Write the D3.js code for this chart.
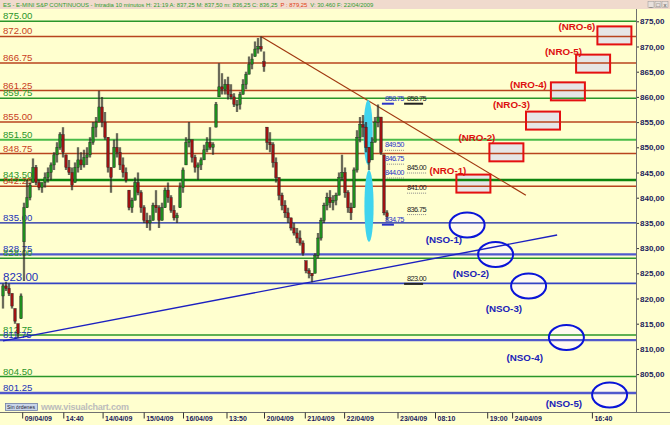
<!DOCTYPE html>
<html>
<head>
<meta charset="utf-8">
<script src="https://cdn.jsdelivr.net/npm/d3@7"></script>
<style>
body{margin:0;background:#fff}
svg{display:block;font-family:Arial,"Liberation Sans",sans-serif}
</style>
</head>
<body>
<svg id="chart" width="670" height="425"></svg>
<script>

// 10 min bars, grouped in slots (high / low / close)
var hi = [823,823.3,823,821,818,815,821,839,843.5,843,847.8,846.5,843.5,843,845,846,847,849,851,853,
  854,848.5,847.5,846,847,850,849,849.5,850,852,855,856,861.2,860,857,852,846,851.5,852.8,850,
  848,846,841.5,840,844,845,841.5,838.5,837,836.5,839,841.5,838.5,839,842,843,840.5,838.5,837,843,
  846,852,855,851.5,848.5,847,848,850.5,852,854,851,859,866.7,864.7,863.5,864,862.5,860.7,859.4,861,
  863.5,865,868,868.6,871,871.7,872,869,854,853,851,848,844,841,839.5,838,836,835,834,833.5,
  831.5,827.5,826,825,829,833,836,839,841,841.5,840.5,841,845,848.5,846,841.5,839,846,853.4,856,
  856.4,855,850,852,856,858.5,856,848.5,837.5];
var lo = [818,821.5,820.5,818,815,812.2,816,823.5,838,839.5,843,842.5,841.5,841,842,843,843.5,845.5,847,849.5,
  848,845.5,844.5,841.5,843,845,845.5,846,846.5,848,850.5,852,855,854,851.5,845,841,846,848,845.5,
  844,843,837.5,837,839.5,840.5,837,835,834,833.5,835.5,837,834,835.5,838,839,837,835.5,835,838,
  841,846.5,850,847,845,843.5,845.5,847.5,849,849.5,848.5,854,860,860.5,860.5,859.5,859.5,858,857,857.5,
  860.5,861.5,864.5,865.5,868,868.6,869,865,849.5,849,846,843,839.5,837.5,836,835,833.5,832.5,831,830.5,
  828.5,825,824,823.2,825,828,831.5,835,837.5,838,837.5,838.5,840.5,843.5,840,837,835.6,838,845,851,
  852,849,845.5,847.5,851,854,848.5,836.5,835.5];
var cl = [822.5,822,821,818.5,815.5,813,820.5,838,840,842.5,846,843,842,843,844,845,846.5,848.5,850,852.5,
  849,846,845,842.5,846,847.5,846.5,848,848.5,851,854,855,858,855,852,846,844,850,849,846.5,
  845,843.5,838,839.5,843,841,838,835.5,835,835.5,838.5,838,835.5,838,841.5,840,837.5,836,836.5,842,
  845.5,851,851.5,848,846,846.5,847.5,849.5,851,850,850.5,858.5,862,861.5,862.5,860.5,860,858.5,858.5,860.5,
  862.5,864.5,866.5,867.5,869.5,870,869.5,866,851,850.5,847,844,840.5,838.5,837,836,834,833,832,831,
  829,825.5,825,824.5,828.5,832,835.5,838.5,840,839,839.5,840.5,844,845,841,838,837,845.5,852,854.5,
  854,850,847,851,855,856,849,837,836.25];
var sessionStart = [7, 87];   // slots opening with a gap

// horizontal levels
var levels = [875,872,866.75,861.25,859.75,855,851.5,848.75,843.5,842.25,835,828.75,828,823,812.75,811.75,804.5,801.25];
var levelKind = ['g','r','r','r','g','r','lg','r','G','r','b','B','g','b3','g','B','g','B'];

// time axis
var tickSlots = [6.4,20.1,33.2,46.9,60,74.5,87,100.6,113.7,131.5,144,161.4,169.7,196.3];
var tickLabels = ['09/04/09','14:40','14/04/09','15/04/09','16/04/09','13:50','20/04/09','21/04/09','22/04/09','23/04/09','08:10','19:00','24/04/09','16:40'];
var priceTicks = [805,810,815,820,825,830,835,840,845,850,855,860,865,870,875];

// trend lines
var trendDownSlot = [86, 174.3], trendDownPrice = [872, 840.5];
var trendUpSlot = [0, 184.7], trendUpPrice = [811.6, 832.6];

// cyan marks
var cyanSlot = [121.7, 122], cyanTop = [859.4, 845.5], cyanBottom = [846.5, 831.2];

// objectives
var nroNames = ['(NRO-1)','(NRO-2)','(NRO-3)','(NRO-4)','(NRO-5)','(NRO-6)'];
var nroSlot = [156.8, 167.8, 180, 188.3, 196.7, 203.8];
var nroPrice = [842.8, 849.0, 855.3, 861.1, 866.6, 872.2];
var nsoNames = ['(NSO-1)','(NSO-2)','(NSO-3)','(NSO-4)','(NSO-5)'];
var nsoSlot = [154.7, 164.2, 175.2, 187.8, 202.2];
var nsoPrice = [834.58, 828.73, 822.48, 812.26, 800.85];

// quote tags
var blueTags = [858.75, 849.5, 846.75, 844, 834.75];
var blueSolid = [true, false, false, false, true];
var blackTags = [858.75, 845, 841, 836.75, 823];
var blackSolid = [true, false, false, false, true];
var tagSlotBlue = 127.3, tagSlotBlack = 134.7;

var titleParts = ['ES - E-MINI S&P CONTINUOUS - Intradia 10 minutos H: 21:19 A: 837,25 M: 837,50 m: 836,25 C: 836,25',
  'P : 879,25', 'V: 30.460 F: 22/04/2009'];
var titleColors = ['#2f9a2f', '#e03a10', '#2f9a2f'];

var svg = d3.select('#chart');
var W = 670, H = 425, plotR = 636, plotT = 9, plotB = 412;

var x = d3.scaleLinear().domain([0, 211]).range([3, 636]);
var y = d3.scaleLinear().domain([805, 875]).range([374.1, 21.3]);

// backgrounds
svg.append('rect').attr('width', W).attr('height', H).attr('fill', '#ffffcf');
svg.append('rect').attr('width', W).attr('height', plotT).attr('fill', '#f0dacd');

// title, pieces laid out one after the other
var tx0 = 3;
titleParts.forEach(function(t, i){
  var el = svg.append('text').attr('x', tx0).attr('y', 6.6).attr('font-size', 5.9)
    .attr('fill', titleColors[i]).text(t);
  tx0 += el.node().getComputedTextLength() + 3;
});

// window buttons
['_','□','x'].forEach(function(s, i){
  svg.append('rect').attr('x', 648 + i*7).attr('y', 1.5).attr('width', 6).attr('height', 6)
    .attr('fill', '#e8e0dc').attr('stroke', '#999').attr('stroke-width', 0.5);
  svg.append('text').attr('x', 651 + i*7).attr('y', 6.8).attr('font-size', 6).attr('text-anchor', 'middle')
    .attr('fill', '#444').text(s);
});

var plot = svg.append('g');

// NRO boxes + NSO ellipses (fill) under the lines
var boxW = 34, boxH = 18;
plot.selectAll('rect.nro').data(nroSlot).enter().append('rect')
  .attr('class', 'nro')
  .attr('x', function(d){ return x(d) - boxW/2; })
  .attr('y', function(d, i){ return y(nroPrice[i]) - boxH/2; })
  .attr('width', boxW).attr('height', boxH)
  .attr('fill', '#e6e6e6');
plot.selectAll('ellipse.nso').data(nsoSlot).enter().append('ellipse')
  .attr('class', 'nso')
  .attr('cx', function(d){ return x(d); })
  .attr('cy', function(d, i){ return y(nsoPrice[i]); })
  .attr('rx', 17.5).attr('ry', 12.5)
  .attr('fill', '#fffaf0');

// level lines
var lineStyle = {
  g:  {c:'#2a962a', w:1.5},
  lg: {c:'#48bb48', w:2},
  G:  {c:'#0f850f', w:2.6},
  r:  {c:'#b8441e', w:1.5},
  b:  {c:'#1020a8', w:1.3},
  b3: {c:'#3444c4', w:1.6},
  B:  {c:'#5058cc', w:2.3}
};
var labelColor = {g:'#2a962a', lg:'#2a962a', G:'#2a962a', r:'#c8401c', b:'#2232b8', b3:'#2232b8', B:'#2232b8'};

plot.selectAll('line.lvl').data(levels).enter().append('line')
  .attr('class', 'lvl')
  .attr('x1', 0).attr('x2', plotR)
  .attr('y1', function(d){ return y(d); }).attr('y2', function(d){ return y(d); })
  .attr('stroke', function(d, i){ return lineStyle[levelKind[i]].c; })
  .attr('stroke-width', function(d, i){ return lineStyle[levelKind[i]].w; });

plot.selectAll('text.lvl').data(levels).enter().append('text')
  .attr('class', 'lvl')
  .attr('x', 3)
  .attr('y', function(d){ return y(d) - 2; })
  .attr('font-size', function(d, i){ return levelKind[i] === 'b3' ? 11.5 : 9.6; })
  .attr('fill', function(d, i){ return labelColor[levelKind[i]]; })
  .text(function(d){ return d.toFixed(2); });

// trend lines
plot.append('line')
  .attr('x1', x(trendDownSlot[0])).attr('y1', y(trendDownPrice[0]))
  .attr('x2', x(trendDownSlot[1])).attr('y2', y(trendDownPrice[1]))
  .attr('stroke', '#a0380f').attr('stroke-width', 1.2);
plot.append('line')
  .attr('x1', x(trendUpSlot[0])).attr('y1', y(trendUpPrice[0]))
  .attr('x2', x(trendUpSlot[1])).attr('y2', y(trendUpPrice[1]))
  .attr('stroke', '#1c20c0').attr('stroke-width', 1.4);

// cyan ellipses
plot.selectAll('ellipse.cy').data(cyanSlot).enter().append('ellipse')
  .attr('cx', function(d){ return x(d); })
  .attr('cy', function(d, i){ return (y(cyanTop[i]) + y(cyanBottom[i]))/2; })
  .attr('rx', 4.6)
  .attr('ry', function(d, i){ return (y(cyanBottom[i]) - y(cyanTop[i]))/2; })
  .attr('fill', '#3fd4ee');

// candles
var bars = hi.map(function(h, i){
  var o = (i === 0 || sessionStart.indexOf(i) >= 0) ? (hi[i] + lo[i])/2 : Math.max(lo[i], Math.min(h, cl[i-1]));
  return {i:i, h:h, l:lo[i], o:o, c:cl[i]};
});
var cg = plot.append('g');
cg.selectAll('line.sh').data(bars).enter().append('line')
  .attr('x1', function(d){ return x(d.i); }).attr('x2', function(d){ return x(d.i); })
  .attr('y1', function(d){ return y(d.h); }).attr('y2', function(d){ return y(d.l); })
  .attr('stroke', '#7a7a66').attr('stroke-width', 3).attr('stroke-opacity', 0.35);
cg.selectAll('line.wk').data(bars).enter().append('line')
  .attr('x1', function(d){ return x(d.i); }).attr('x2', function(d){ return x(d.i); })
  .attr('y1', function(d){ return y(d.h); }).attr('y2', function(d){ return y(d.l); })
  .attr('stroke', '#161616').attr('stroke-width', 1.1);
cg.selectAll('rect.bd').data(bars).enter().append('rect')
  .attr('x', function(d){ return x(d.i) - 1.2; }).attr('width', 2.4)
  .attr('y', function(d){ return y(Math.max(d.o, d.c)); })
  .attr('height', function(d){ return Math.max(1, Math.abs(y(d.o) - y(d.c))); })
  .attr('fill', function(d){ return d.c >= d.o ? '#1e8c1e' : '#9c1212'; })
  .attr('stroke', '#222').attr('stroke-width', 0.4);

// NRO / NSO outlines and labels
plot.selectAll('rect.nroo').data(nroSlot).enter().append('rect')
  .attr('x', function(d){ return x(d) - boxW/2; })
  .attr('y', function(d, i){ return y(nroPrice[i]) - boxH/2; })
  .attr('width', boxW).attr('height', boxH)
  .attr('fill', 'none').attr('stroke', '#e41010').attr('stroke-width', 2);
var nroLabDx = [10, 6, 4, -4, 6, -2], nroLabDy = [-0.5, -2.5, -4, 6, 0, 3.5];
plot.selectAll('text.nro').data(nroNames).enter().append('text')
  .attr('x', function(d, i){ return x(nroSlot[i]) - boxW/2 + nroLabDx[i]; })
  .attr('y', function(d, i){ return y(nroPrice[i]) - boxH/2 + nroLabDy[i]; })
  .attr('text-anchor', 'end').attr('font-size', 9.8).attr('font-weight', 'bold')
  .attr('fill', '#dd1010').text(function(d){ return d; });

plot.selectAll('ellipse.nsoo').data(nsoSlot).enter().append('ellipse')
  .attr('cx', function(d){ return x(d); })
  .attr('cy', function(d, i){ return y(nsoPrice[i]); })
  .attr('rx', 17.5).attr('ry', 12.5)
  .attr('fill', 'none').attr('stroke', '#0a14d8').attr('stroke-width', 2);
var nsoLabDx = [-5, -6.5, -6.5, -23.5, -27.5], nsoLabDy = [18, 22.5, 26, 23.5, 12];
plot.selectAll('text.nso').data(nsoNames).enter().append('text')
  .attr('x', function(d, i){ return x(nsoSlot[i]) + nsoLabDx[i]; })
  .attr('y', function(d, i){ return y(nsoPrice[i]) + nsoLabDy[i]; })
  .attr('text-anchor', 'end').attr('font-size', 9.8).attr('font-weight', 'bold')
  .attr('fill', '#1a22b8').text(function(d){ return d; });

// quote tags
function tags(list, solid, slot, color, solidW, solidDx) {
  var tx = x(slot);
  plot.selectAll(null).data(list).enter().append('text')
    .attr('x', tx).attr('y', function(d){ return y(d) - 2.5; })
    .attr('font-size', 7.4).attr('fill', color).attr('textLength', 19.5)
    .text(function(d){ return d.toFixed(2); });
  plot.selectAll(null).data(list).enter().append('line')
    .attr('x1', function(d, i){ return solid[i] ? tx + solidDx : tx; })
    .attr('x2', function(d, i){ return solid[i] ? tx + solidDx + solidW : tx + 20; })
    .attr('y1', function(d){ return y(d) + 0.5; }).attr('y2', function(d){ return y(d) + 0.5; })
    .attr('stroke', function(d, i){ return solid[i] ? color : '#888'; })
    .attr('stroke-width', function(d, i){ return solid[i] ? 2 : 1; })
    .attr('stroke-dasharray', function(d, i){ return solid[i] ? null : '1,1'; });
}
tags(blueTags, blueSolid, tagSlotBlue, '#2b33c8', 12, -3);
tags(blackTags, blackSolid, tagSlotBlack, '#222', 19, -3);

// right price axis
var ax = svg.append('g').attr('transform', 'translate(' + plotR + ',0)')
  .call(d3.axisRight(y).tickValues(priceTicks).tickSize(3).tickPadding(1)
    .tickFormat(function(d){ return d3.format('.2f')(d).replace('.', ','); }));
ax.select('.domain').remove();
ax.selectAll('line').attr('stroke', '#333');
ax.selectAll('text').attr('font-size', 8).attr('font-weight', 'bold').attr('fill', '#1c1c5c')
  .attr('font-family', 'Arial, "Liberation Sans", sans-serif');

svg.append('line').attr('x1', plotR + 0.5).attr('x2', plotR + 0.5).attr('y1', plotT).attr('y2', plotB)
  .attr('stroke', '#707070');
svg.append('line').attr('x1', 0).attr('x2', W).attr('y1', plotB + 0.5).attr('y2', plotB + 0.5)
  .attr('stroke', '#707070');

// bottom time axis
var bx = svg.append('g').attr('transform', 'translate(0,' + (plotB + 0.5) + ')')
  .call(d3.axisBottom(x).tickValues(tickSlots).tickSize(6)
    .tickFormat(function(d, i){ return tickLabels[i]; }));
bx.select('.domain').remove();
bx.selectAll('line').attr('stroke', '#333');
bx.selectAll('text').attr('text-anchor', 'start').attr('x', 2).attr('y', 4).attr('dy', '0.71em')
  .attr('font-size', 7).attr('font-weight', 'bold').attr('fill', '#1c1c5c')
  .attr('font-family', 'Arial, "Liberation Sans", sans-serif');

// footer
svg.append('rect').attr('x', 5.5).attr('y', 403.5).attr('width', 32).attr('height', 7)
  .attr('fill', '#c9d5ea').attr('stroke', '#6f7fa8').attr('stroke-width', 0.8);
svg.append('text').attr('x', 7).attr('y', 409).attr('font-size', 5.2).attr('fill', '#223')
  .attr('textLength', 28).text('Sin órdenes');
svg.append('text').attr('x', 41).attr('y', 410).attr('font-size', 9).attr('font-weight', 'bold')
  .attr('fill', '#bcbcbc').attr('textLength', 88).text('www.visualchart.com');

</script>
</body>
</html>
